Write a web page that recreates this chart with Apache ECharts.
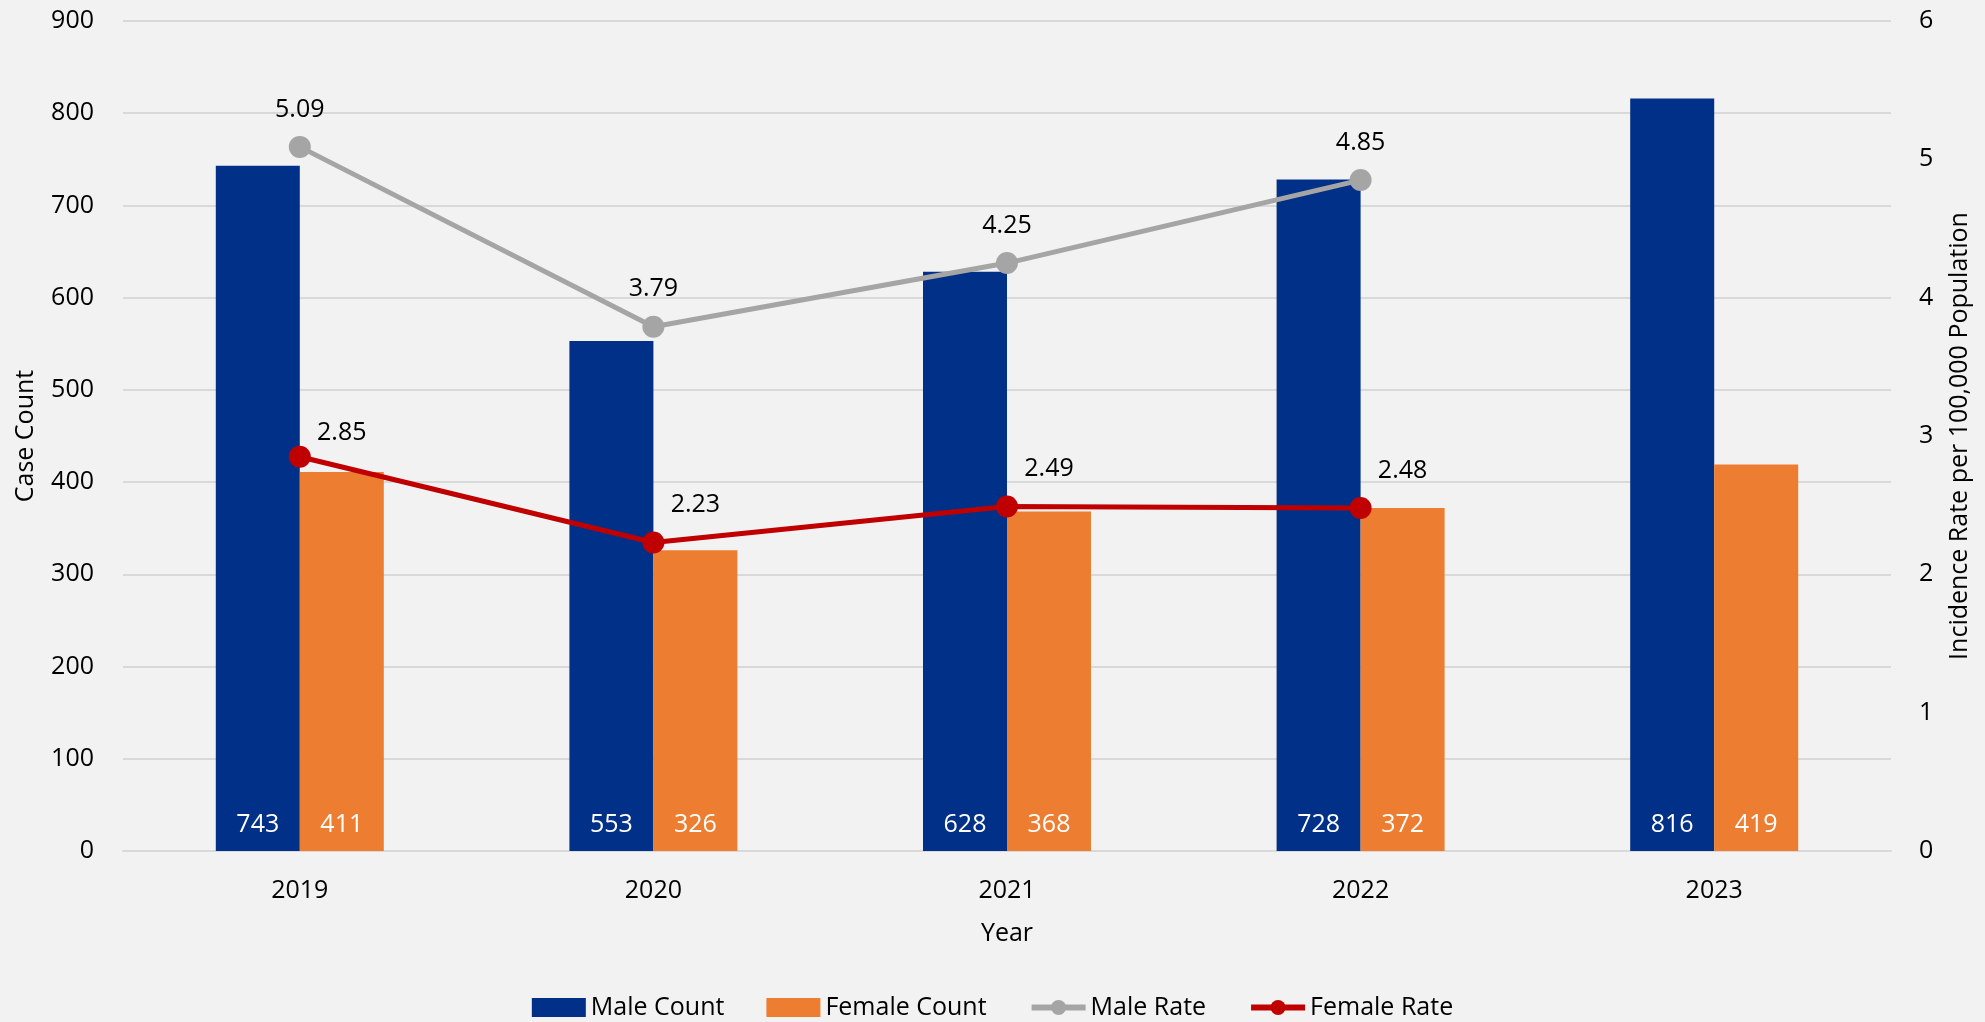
<!DOCTYPE html>
<html>
<head>
<meta charset="utf-8">
<script src="https://cdn.jsdelivr.net/npm/echarts@6/dist/echarts.min.js"></script>
<style>
  html, body { margin: 0; padding: 0; background: #f2f2f2; }
  #chart { width: 1985px; height: 1022px; }
</style>
</head>
<body>
<div id="chart"></div>
<script>
// chart data
const years = ['2019', '2020', '2021', '2022', '2023']
const maleCount = [743, 553, 628, 728, 816]
const femaleCount = [411, 326, 368, 372, 419]
const maleRate = [5.09, 3.79, 4.25, 4.85, null]
const femaleRate = [2.85, 2.23, 2.49, 2.48, null]

const FONT = 'Open Sans'
const TEXT = '#000000'

const chart = echarts.init(document.getElementById('chart'))

const barLabel = {
  show: true,
  position: 'insideBottom',
  distance: 14,
  color: '#ffffff',
  fontFamily: FONT,
  fontSize: 25
}

// first female label sits a bit lower in the original
const femaleRateData = femaleRate.map((v, i) =>
  i === 0 ? { value: v, label: { offset: [42, 14] } } : v
)

const option = {
  backgroundColor: '#f2f2f2',
  animation: false,
  textStyle: { fontFamily: FONT },
  grid: {
    left: 123,
    right: 94,
    top: 21,
    bottom: 171
  },
  legend: {
    bottom: -3,
    left: 'center',
    itemWidth: 54,
    itemHeight: 19,
    itemGap: 42,
    textStyle: { color: TEXT, fontFamily: FONT, fontSize: 25 },
    lineStyle: { width: 6 },
    data: [
      { name: 'Male Count', icon: 'rect' },
      { name: 'Female Count', icon: 'rect' },
      { name: 'Male Rate' },
      { name: 'Female Rate' }
    ]
  },
  xAxis: {
    type: 'category',
    data: years,
    name: 'Year',
    nameLocation: 'middle',
    nameGap: 70,
    nameTextStyle: { color: TEXT, fontFamily: FONT, fontSize: 25 },
    axisLine: { lineStyle: { color: '#d9d9d9', width: 2 } },
    axisTick: { show: false },
    axisLabel: { color: TEXT, fontFamily: FONT, fontSize: 25, margin: 27 }
  },
  yAxis: [
    {
      type: 'value',
      min: 0,
      max: 900,
      interval: 100,
      name: 'Case Count',
      nameLocation: 'middle',
      nameRotate: 90,
      nameGap: 85,
      nameTextStyle: { color: TEXT, fontFamily: FONT, fontSize: 25 },
      axisLine: { show: false },
      axisTick: { show: false },
      axisLabel: { color: TEXT, fontFamily: FONT, fontSize: 25, margin: 29 },
      splitLine: { lineStyle: { color: '#d9d9d9', width: 2 } }
    },
    {
      type: 'value',
      min: 0,
      max: 6,
      interval: 1,
      name: 'Incidence Rate per 100,000 Population',
      nameLocation: 'middle',
      nameRotate: 90,
      nameGap: 56,
      nameTextStyle: { color: TEXT, fontFamily: FONT, fontSize: 25 },
      axisLine: { show: false },
      axisTick: { show: false },
      axisLabel: { color: TEXT, fontFamily: FONT, fontSize: 25, margin: 28 },
      splitLine: { show: false }
    }
  ],
  series: [
    {
      name: 'Male Count',
      type: 'bar',
      barWidth: 84,
      barGap: '0%',
      itemStyle: { color: '#003087' },
      label: barLabel,
      data: maleCount
    },
    {
      name: 'Female Count',
      type: 'bar',
      barWidth: 84,
      itemStyle: { color: '#ed7d31' },
      label: barLabel,
      data: femaleCount
    },
    {
      name: 'Male Rate',
      type: 'line',
      yAxisIndex: 1,
      symbol: 'circle',
      symbolSize: 22,
      z: 5,
      lineStyle: { color: '#a5a5a5', width: 5 },
      itemStyle: { color: '#a5a5a5' },
      label: {
        show: true,
        position: 'top',
        distance: 14,
        color: TEXT,
        fontFamily: FONT,
        fontSize: 25,
        formatter: p => p.value.toFixed(2)
      },
      data: maleRate
    },
    {
      name: 'Female Rate',
      type: 'line',
      yAxisIndex: 1,
      symbol: 'circle',
      symbolSize: 22,
      z: 5,
      lineStyle: { color: '#c00000', width: 5 },
      itemStyle: { color: '#c00000' },
      label: {
        show: true,
        position: 'top',
        distance: 14,
        offset: [42, 0],
        color: TEXT,
        fontFamily: FONT,
        fontSize: 25,
        formatter: p => p.value.toFixed(2)
      },
      data: femaleRateData
    }
  ]
}

chart.setOption(option)
</script>
</body>
</html>
